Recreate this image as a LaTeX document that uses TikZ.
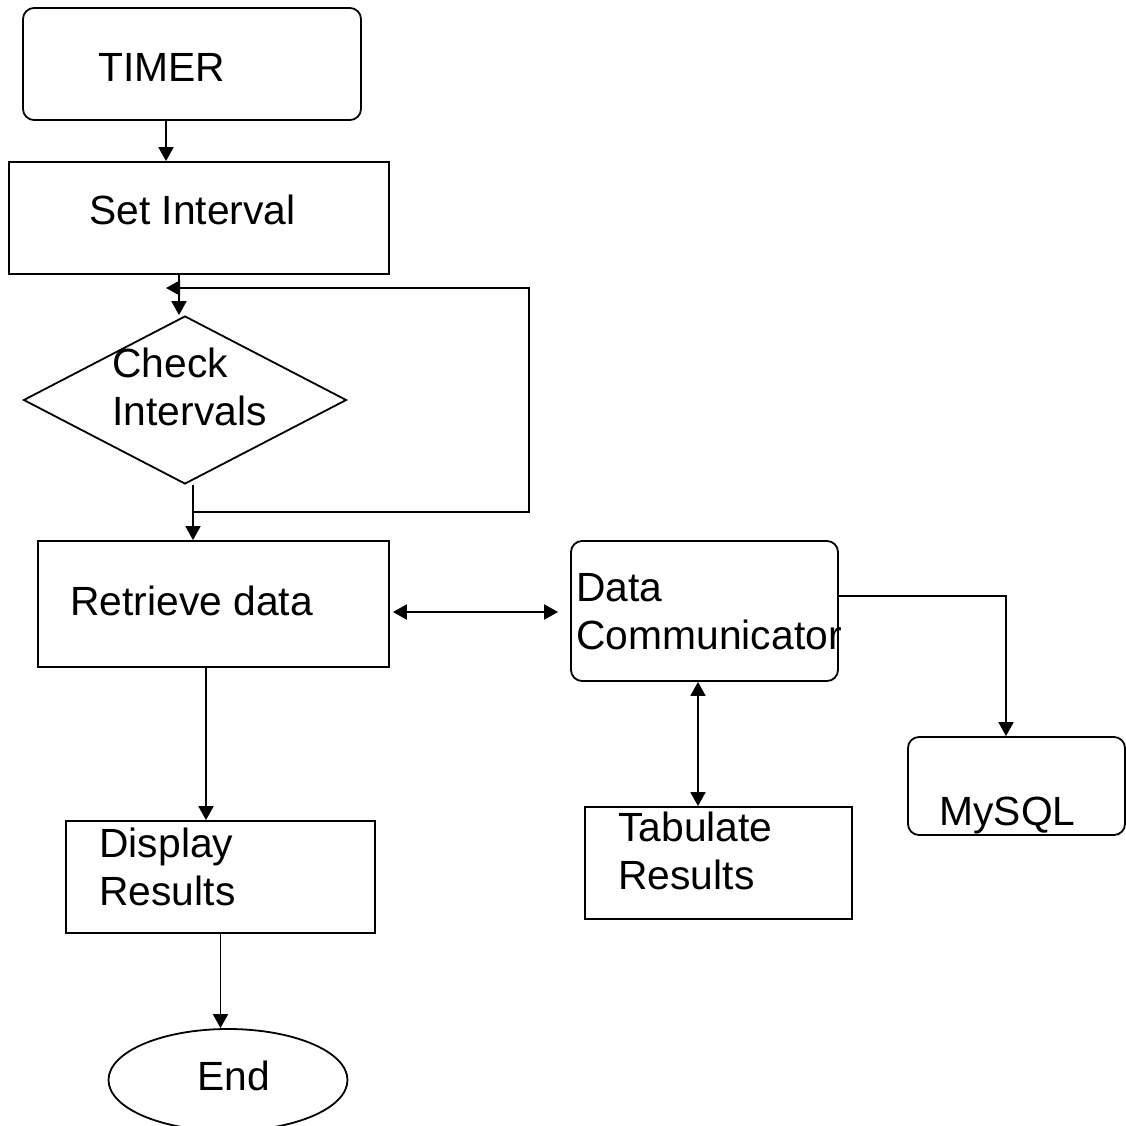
\documentclass[tikz,border=0pt]{standalone}
\usepackage{fontspec}
\setmainfont{Liberation Sans}
\usetikzlibrary{arrows.meta,shapes.geometric,fit}

\tikzset{
  box/.style={draw,line width=0.9pt,inner sep=0pt},
  rbox/.style={box,rounded corners=5.5pt},
  txt/.style={anchor=north west,inner sep=0pt,align=left,font=\fontsize{20.4pt}{23.8pt}\selectfont},
  arr/.style={line width=0.9pt,-{Triangle[length=7pt,width=7.5pt]}},
  dbl/.style={line width=0.9pt,{Triangle[length=7pt,width=7.5pt]}-{Triangle[length=7pt,width=7.5pt]}}
}

\begin{document}
\begin{tikzpicture}[x=0.5pt,y=-0.5pt]
\useasboundingbox (0,0) rectangle (1126,1126);
\node[rbox,fit={(23,8) (361,120)}] (timer) {};
\node[box,fit={(9,162) (389,274)}] (setint) {};
\node[box,diamond,minimum width=161.5pt,minimum height=84pt] (chk) at (185,400) {};
\node[box,fit={(38,541) (389,667)}] (retr) {};
\node[rbox,fit={(571,541) (838,681)}] (dc) {};
\node[rbox,fit={(908,737) (1125,835)}] (mysql) {};
\node[box,fit={(585,807) (852,919)}] (tab) {};
\node[box,fit={(66,821) (375,933)}] (disp) {};
\node[box,ellipse,minimum width=119.5pt,minimum height=51pt] (endn) at (228,1080) {};

\node[txt] (timer-t) at (98,53) {TIMER};
\node[txt] (setint-t) at (89,195) {Set Interval};
\node[txt] (chk-t) at (112,348) {Check\\Intervals};
\node[txt] (retr-t) at (70,586) {Retrieve data};
\node[txt] (dc-t) at (576,573) {Data\\Communicator};
\node[txt] (mysql-t) at (939,797) {MySQL};
\node[txt] (tab-t) at (618,812) {Tabulate\\Results};
\node[txt] (disp-t) at (99,828) {Display\\Results};
\node[txt] (endn-t) at (197,1061) {End};

\coordinate (lpb) at (529,512);
\coordinate (lpt) at (529,288);

\draw[arr] ([xshift=-13pt]timer.south) -- ([xshift=-13pt]timer.south |- setint.north);
\draw[arr] ([xshift=-10pt]setint.south) -- ([xshift=-10pt]setint.south |- chk.north);
\draw[arr] ([xshift=4pt]chk.south |- lpb) -- (lpb) -- (lpt) -- ([xshift=-16.5pt]setint.south |- lpt);
\draw[arr] ([xshift=4pt]chk.south) -- ([xshift=4pt]chk.south |- retr.north);
\draw[dbl] ([xshift=1.5pt,yshift=-4pt]retr.east) -- ([xshift=-6pt,yshift=-4pt]retr.east -| dc.west);
\draw[arr] ([yshift=7.5pt]dc.east) -| ([xshift=-5.25pt]mysql.north);
\draw[dbl] ([xshift=-3.25pt]dc.south) -- ([xshift=-3.25pt]dc.south |- tab.north);
\draw[arr] ([xshift=-3.75pt]retr.south) -- ([xshift=-3.75pt]retr.south |- disp.north);
\draw[arr] (disp.south) -- (disp.south |- endn.north);
\end{tikzpicture}
\end{document}
